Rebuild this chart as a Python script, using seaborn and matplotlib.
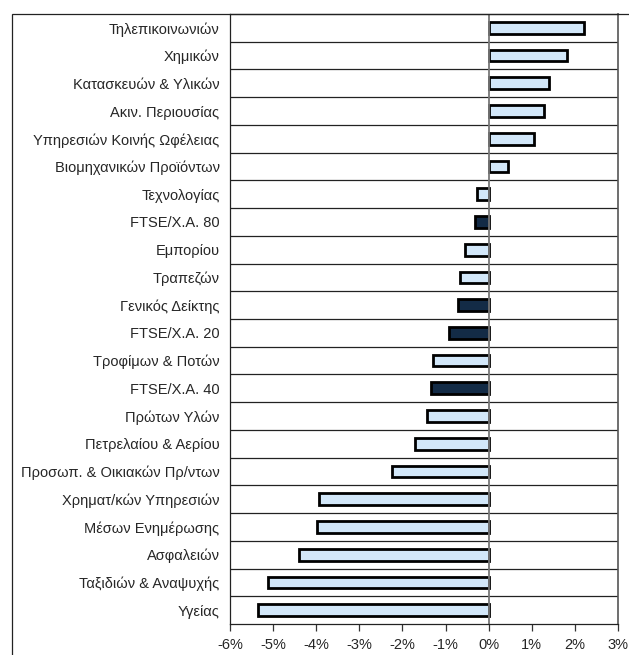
import pandas as pd
import seaborn as sns
import matplotlib.pyplot as plt
from matplotlib.patches import Rectangle
from matplotlib.ticker import FuncFormatter

# Δεδομένα (μεταβολή %)
categories = [
    "Τηλεπικοινωνιών", "Χημικών", "Κατασκευών & Υλικών", "Ακιν. Περιουσίας",
    "Υπηρεσιών Κοινής Ωφέλειας", "Βιομηχανικών Προϊόντων", "Τεχνολογίας",
    "FTSE/Χ.Α. 80", "Εμπορίου", "Τραπεζών", "Γενικός Δείκτης", "FTSE/Χ.Α. 20",
    "Τροφίμων & Ποτών", "FTSE/Χ.Α. 40", "Πρώτων Υλών", "Πετρελαίου & Αερίου",
    "Προσωπ. & Οικιακών Πρ/ντων", "Χρηματ/κών Υπηρεσιών", "Μέσων Ενημέρωσης",
    "Ασφαλειών", "Ταξιδιών & Αναψυχής", "Υγείας",
]
values = [
    2.20, 1.82, 1.39, 1.28, 1.05, 0.45, -0.26, -0.31, -0.54, -0.66, -0.70, -0.93,
    -1.29, -1.34, -1.42, -1.70, -2.25, -3.94, -3.99, -4.40, -5.11, -5.34,
]
index_names = ["FTSE/Χ.Α. 80", "Γενικός Δείκτης", "FTSE/Χ.Α. 20", "FTSE/Χ.Α. 40"]
xticks = [-6, -5, -4, -3, -2, -1, 0, 1, 2, 3]

df = pd.DataFrame({"category": categories, "value": values})
df["kind"] = ["index" if c in index_names else "sector" for c in categories]

sns.set_style("white")
plt.rcParams["font.family"] = ["Liberation Sans", "DejaVu Sans"]

fig = plt.figure(figsize=(6.29, 6.55), dpi=100)
ax = fig.add_axes([230 / 629, 1 - 624 / 655, 388 / 629, 610 / 655])

sns.barplot(data=df, x="value", y="category", hue="kind", order=categories,
            palette={"sector": "#CCE8FF", "index": "#0B2A4E"}, dodge=False,
            width=0.42, edgecolor="black", linewidth=2, legend=False, ax=ax)

ax.set_xlim(-6, 3)
ax.set_ylim(len(categories) - 0.5, -0.5)
ax.set_xticks(xticks)
ax.xaxis.set_major_formatter(FuncFormatter(lambda v, p: f"{v:.0f}%"))
ax.set_xlabel("")
ax.set_ylabel("")

# γραμμές διαχωρισμού κατηγοριών
ax.set_yticks([i + 0.5 for i in range(len(categories) - 1)], minor=True)
ax.grid(True, which="minor", axis="y", color="#222222", linewidth=0.9)
ax.grid(False, which="major")
ax.axvline(0, color="#777777", linewidth=1.3, zorder=1)

ax.tick_params(axis="y", which="both", length=0, pad=7.5, labelsize=10.5)
ax.tick_params(axis="x", length=5, width=0.9, color="#333333", pad=5, labelsize=10.5,
               direction="out", bottom=True)
for side in ["left", "bottom", "top"]:
    ax.spines[side].set_color("#222222")
    ax.spines[side].set_linewidth(0.9)
ax.spines["right"].set_color("#555555")
ax.spines["right"].set_linewidth(1.2)

# περίγραμμα γραφήματος
fig.add_artist(Rectangle((12 / 629, -0.1), 1.2, 1 - 14 / 655 + 0.1, transform=fig.transFigure,
                         fill=False, edgecolor="#222222", linewidth=0.9))

fig.savefig("out.png", dpi=100)
